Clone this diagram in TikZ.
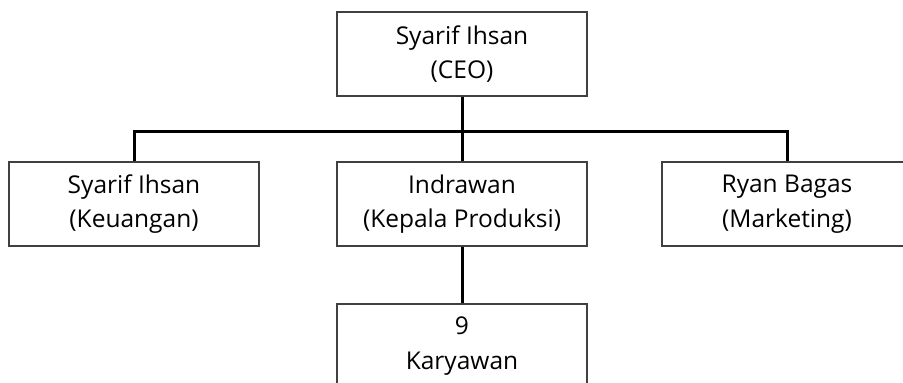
\documentclass[tikz,border=0pt]{standalone}
\usepackage{fontspec}
\setmainfont{Open Sans}
\begin{document}
\begin{tikzpicture}[x=1pt,y=-1pt,
  orgbox/.style={draw=black!75, line width=1.5pt, fill=white,
    minimum width=250pt, minimum height=84pt, inner sep=0pt,
    align=center, font=\fontsize{24.5}{34.5}\selectfont},
  conn/.style={draw=black, line width=3pt, line join=miter}]
  \useasboundingbox (0,0) rectangle (903,383);
  \clip (0,0) rectangle (903,383);

  % organisation boxes
  \node[orgbox] (ceo) at (462,54)  {Syarif Ihsan\\(CEO)};
  \node[orgbox] (keu) at (134,204) {Syarif Ihsan\\(Keuangan)};
  \node[orgbox] (pro) at (462,204) {Indrawan\\(Kepala Produksi)};
  \node[orgbox] (mkt) at (787,204) {Ryan Bagas\\(Marketing)};
  \node[orgbox] (kar) at (462,346) {9\\Karyawan};

  % reporting lines
  \coordinate (bus) at (462,131);
  \draw[conn] (ceo.south) -- (pro.north);
  \draw[conn] (keu.north) |- (bus);
  \draw[conn] (mkt.north) |- (bus);
  \draw[conn] (pro.south) -- (kar.north);
\end{tikzpicture}
\end{document}
